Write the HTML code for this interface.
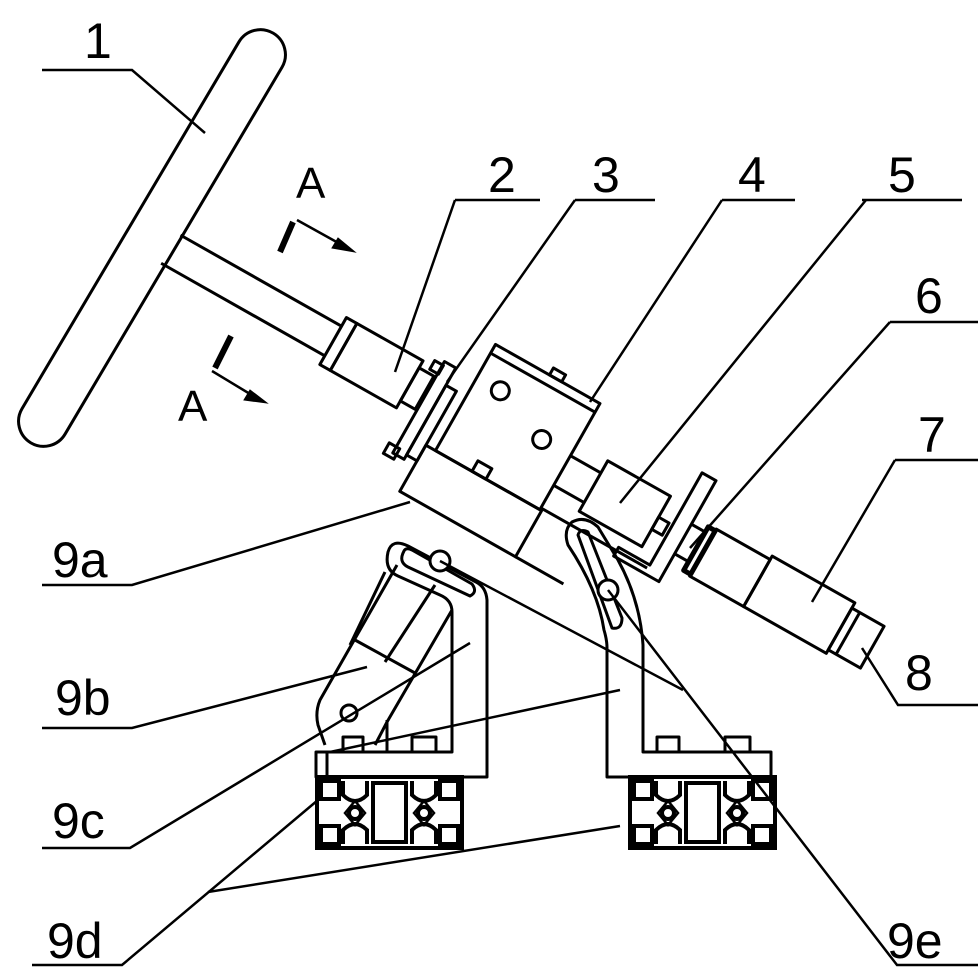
<!DOCTYPE html>
<html><head><meta charset="utf-8"><style>
html,body{margin:0;padding:0;background:#fff}
svg{display:block}
text{font-family:"Liberation Sans",sans-serif;font-size:50px;fill:#000}
</style></head><body>
<svg width="979" height="967" viewBox="0 0 979 967" xmlns="http://www.w3.org/2000/svg">
<defs>
<g id="prof" fill="none" stroke="#000" stroke-width="4">
  <rect x="0" y="0" width="145" height="71"/>
  <rect x="4" y="4" width="18" height="18"/>
  <rect x="4" y="49" width="18" height="18"/>
  <rect x="123" y="4" width="18" height="18"/>
  <rect x="123" y="49" width="18" height="18"/>
  <path d="M26,4 L26,18 Q38,30 50,18 L50,4"/>
  <path d="M26,67 L26,53 Q38,41 50,53 L50,67"/>
  <path d="M95,4 L95,18 Q107,30 119,18 L119,4"/>
  <path d="M95,67 L95,53 Q107,41 119,53 L119,67"/>
  <circle cx="38" cy="36" r="6"/>
  <circle cx="107" cy="36" r="6"/>
  <path d="M28,36 L38,24 L48,36 L38,48 Z" stroke-width="2.5"/>
  <path d="M97,36 L107,24 L117,36 L107,48 Z" stroke-width="2.5"/>
  <rect x="56" y="6" width="33" height="59"/>
</g>
</defs>
<g fill="none" stroke="#000" stroke-width="3" stroke-linejoin="round">
  <g transform="translate(152,238) rotate(-59.4)">
    <rect x="-238" y="-25" width="476" height="50" rx="25" ry="25"/>
  </g>
  <g transform="translate(175,255) rotate(29.5)">
    <line x1="-5" y1="-20" x2="180" y2="-20"/>
    <line x1="-8" y1="14" x2="180" y2="14"/>
    <rect x="180" y="-30" width="12" height="54"/>
    <rect x="192" y="-30" width="76" height="54"/>
    <rect x="268" y="-22" width="17" height="38"/>
    <rect x="278" y="-36" width="10" height="10"/>
    <rect x="287" y="-40" width="13" height="105"/>
    <rect x="300" y="-20" width="12" height="80"/>
    <rect x="279" y="58" width="12" height="12"/>
    <rect x="323" y="-80" width="120" height="122"/>
    <line x1="323" y1="-70" x2="443" y2="-70"/>
    <rect x="385" y="-88" width="14" height="8"/>
    <rect x="365" y="30" width="16" height="12"/>
    <circle cx="350" cy="-42" r="9"/>
    <circle cx="410" cy="-20" r="9"/>
    <rect x="312" y="42" width="133" height="53"/>
    <line x1="445" y1="95" x2="500" y2="95"/>
    <line x1="443" y1="40" x2="565" y2="40"/>
    <line x1="443" y1="-20" x2="478" y2="-20"/>
    <line x1="443" y1="14" x2="478" y2="14"/>
    <rect x="478" y="-34" width="72" height="58"/>
    <rect x="550" y="-10" width="12" height="14"/>
    <path d="M566,-70 L582,-70 L582,46 L530,46 L530,36 L566,36 Z"/>
    <line x1="582" y1="-20" x2="598" y2="-20"/>
    <line x1="582" y1="14" x2="598" y2="14"/>
    <rect x="598" y="-26" width="8" height="50" stroke-width="5"/>
    <rect x="606" y="-28" width="62" height="54"/>
    <rect x="668" y="-32" width="95" height="58"/>
    <rect x="763" y="-26" width="37" height="48"/>
    <line x1="772" y1="-26" x2="772" y2="22"/>
  </g>
  <path d="M327,752 L327,777 L487,777 L487,600 Q486,587 476,582 L408,546 Q392,538 388,552 Q384,570 398,576 L440,595 Q452,600 452,612 L452,752 Z"/>
  <path d="M404,551 Q398,562 408,567 L470,596 Q478,592 472,584 L412,550 Q406,547 404,551 Z"/>
  <circle cx="440" cy="561" r="10" fill="#fff"/>
  <rect x="343" y="737" width="20" height="15"/>
  <rect x="412" y="737" width="24" height="15"/>
  <rect x="316" y="752" width="11" height="25"/>
  <path d="M397,565 L320,700 Q315,712 318,725 L325,745"/>
  <path d="M452,610 L387,722 L375,745"/>
  <line x1="355" y1="640" x2="415" y2="673"/>
  <line x1="385" y1="572" x2="350" y2="645"/>
  <line x1="435" y1="585" x2="385" y2="662"/>
  <path d="M387,720 L387,752"/>
  <circle cx="349" cy="713" r="8"/>
  <path d="M607,777 L771,777 L771,752 L643,752 L643,645 Q640,600 618,560 L598,527 Q585,515 572,522 Q563,530 568,545 Q598,590 604,630 Q607,640 607,648 Z"/>
  <path d="M578,535 Q580,528 588,532 L622,618 Q622,630 612,628 Z"/>
  <circle cx="608" cy="590" r="10" fill="#fff"/>
  <rect x="657" y="737" width="22" height="15"/>
  <rect x="725" y="737" width="25" height="15"/>
</g>
<use href="#prof" x="317" y="777"/>
<use href="#prof" x="630" y="777"/>
<g stroke="#000" fill="none">
  <line x1="293" y1="222" x2="280" y2="252" stroke-width="6"/>
  <polyline points="297,220 342,245" stroke-width="2.5"/>
  <polygon points="355,252 332,248 338,238" fill="#000"/>
  <line x1="231" y1="336" x2="215" y2="368" stroke-width="6"/>
  <polyline points="212,371 255,397" stroke-width="2.5"/>
  <polygon points="267,403 244,400 250,390" fill="#000"/>
</g>
<g stroke="#000" stroke-width="2.5" fill="none">
  <polyline points="42,70 132,70 205,133"/>
  <polyline points="455,200 540,200"/><line x1="455" y1="200" x2="395" y2="372"/>
  <polyline points="575,200 655,200"/><line x1="575" y1="200" x2="447" y2="382"/>
  <polyline points="722,200 795,200"/><line x1="722" y1="200" x2="590" y2="402"/>
  <polyline points="862,200 962,200"/><line x1="866" y1="200" x2="620" y2="503"/>
  <polyline points="890,322 978,322"/><line x1="890" y1="322" x2="690" y2="548"/>
  <polyline points="895,460 978,460"/><line x1="895" y1="460" x2="812" y2="602"/>
  <polyline points="862,648 898,705 978,705"/>
  <polyline points="42,585 132,585 410,502"/>
  <polyline points="42,728 132,728 367,667"/>
  <polyline points="42,848 130,848 470,643"/>
  <polyline points="32,965 122,965 318,800"/>
  <line x1="208" y1="892" x2="620" y2="826"/>
  <polyline points="978,965 897,965 608,590"/>
  <line x1="683" y1="690" x2="440" y2="561"/>
  <line x1="330" y1="752" x2="620" y2="690"/>
</g>
<text x="84" y="58">1</text>
<text x="488" y="192">2</text>
<text x="592" y="192">3</text>
<text x="738" y="192">4</text>
<text x="888" y="192">5</text>
<text x="915" y="313">6</text>
<text x="918" y="452">7</text>
<text x="905" y="690">8</text>
<text x="296" y="198" style="font-size:44px">A</text>
<text x="178" y="421" style="font-size:44px">A</text>
<text x="52" y="577">9a</text>
<text x="55" y="715">9b</text>
<text x="52" y="838">9c</text>
<text x="47" y="958">9d</text>
<text x="887" y="958">9e</text>
</svg>
</body></html>
